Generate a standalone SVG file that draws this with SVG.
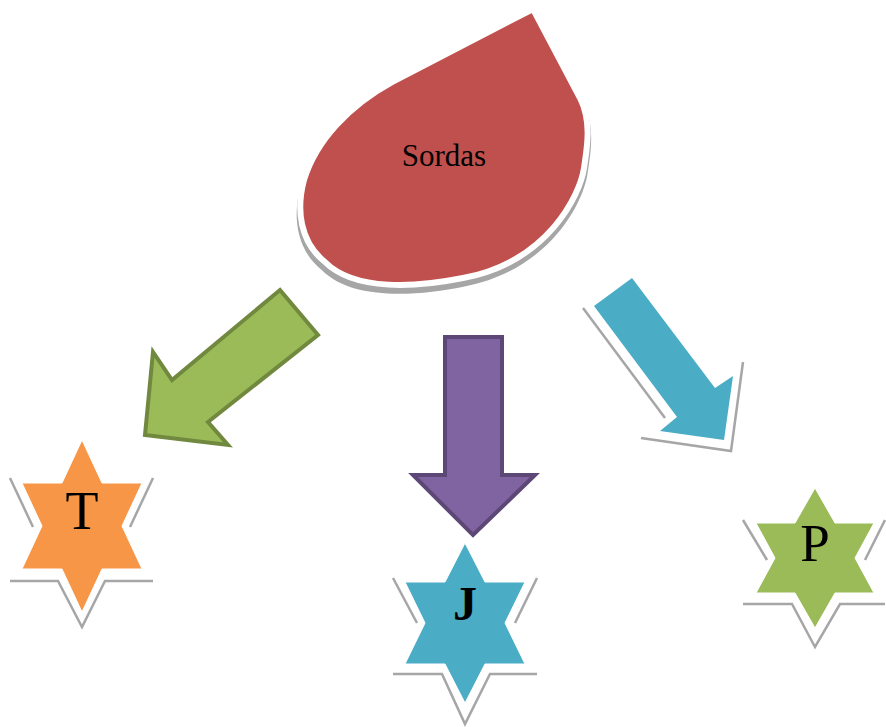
<svg xmlns="http://www.w3.org/2000/svg" width="886" height="727" viewBox="0 0 886 727">
<defs>
<style>
.shadow{fill:none;stroke:#a6a6a6;stroke-width:2.5;stroke-linejoin:miter}
.lbl{font-family:"Liberation Serif","Times New Roman",serif;fill:#000;text-anchor:middle}
.star{stroke:#fff;stroke-width:1}
</style>
<path id="drop" d="M533,9 L580,98 C592,122 587,148 584,168 C580,195 548,262 463,278 C418,287 355,292 325,262 C300,242 296,210 304,180 C316,140 350,105 392,82 Z"/>
</defs>
<rect width="886" height="727" fill="#fff"/>
<g id="sordas">
<use href="#drop" fill="#a6a6a6" transform="translate(445,176) scale(1.025) translate(-445,-170)"/>
<use href="#drop" fill="#c0504d" stroke="#fff" stroke-width="6"/>
<text class="lbl" x="444" y="166" font-size="31">Sordas</text>
</g>
<g id="connectors">
<polygon points="280,290 318,335 208,422 228,445 145,435 153,352 172,380" fill="#9bbb59" stroke="#71893f" stroke-width="4" stroke-linejoin="miter"/>
<polygon points="445,337 502,337 502,475 535,475 473,535 413,475 445,475" fill="#8064a2" stroke="#5c4776" stroke-width="4" stroke-linejoin="miter"/>
<g id="arrow-p">
<line class="shadow" x1="583" y1="308" x2="665" y2="418"/>
<polyline class="shadow" points="641,438 731,451 743,362" stroke-width="3"/>
<polygon points="632,278 594,306 677,417 660,431 724,440 733,376 715,388" fill="#4bacc6"/>
</g>
</g>
<g id="node-t">
<polyline class="shadow" points="10,478 33,527"/>
<polyline class="shadow" points="153,478 130,527"/>
<polyline class="shadow" points="10,581 58,581 82,627 105,581 153,581"/>
<polygon class="star" points="82,440 102,483 142,483 122,526 142,569 102,569 82,612 62,569 22,569 42,526 22,483 62,483" fill="#f79646"/>
<text class="lbl" x="82" y="529" font-size="54">T</text>
</g>
<g id="node-j">
<polyline class="shadow" points="393,578 417,623"/>
<polyline class="shadow" points="537,578 515,623"/>
<polyline class="shadow" points="393,674 442,674 465,724 490,674 537,674"/>
<polygon class="star" points="465,543 485,582 525,582 505,623 525,664 485,664 465,703 445,664 405,664 425,623 405,582 445,582" fill="#4bacc6"/>
<text class="lbl" x="465" y="620" font-size="48" font-weight="bold">J</text>
</g>
<g id="node-p">
<polyline class="shadow" points="743,520 767,560"/>
<polyline class="shadow" points="885,520 865,560"/>
<polyline class="shadow" points="743,604 792,604 815,647 840,604 885,604"/>
<polygon class="star" points="815,488 835,523 874,523 855,558 874,593 835,593 815,628 795,593 756,593 775,558 756,523 795,523" fill="#9bbb59"/>
<text class="lbl" x="815" y="561" font-size="53">P</text>
</g>
</svg>
